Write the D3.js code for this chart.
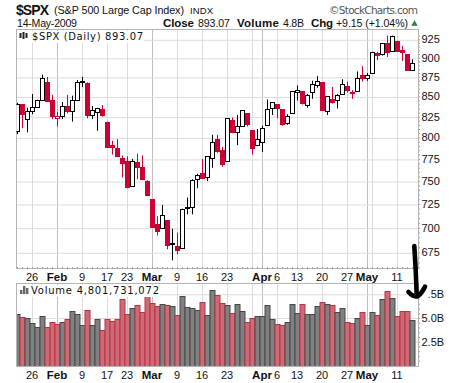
<!DOCTYPE html>
<html>
<head>
<meta charset="utf-8">
<script src="https://cdn.jsdelivr.net/npm/d3@7"></script>
<style>
  html, body { margin: 0; padding: 0; background: #fff; }
  svg { display: block; }
  text { font-family: "Liberation Sans", Arial, sans-serif; fill: #111; }
</style>
</head>
<body>
<script>
// Trading days on the chart
const dates = [
  '01-21','01-22','01-23','01-26','01-27','01-28','01-29','01-30',
  '02-02','02-03','02-04','02-05','02-06','02-09','02-10','02-11','02-12','02-13',
  '02-17','02-18','02-19','02-20','02-23','02-24','02-25','02-26','02-27',
  '03-02','03-03','03-04','03-05','03-06','03-09','03-10','03-11','03-12','03-13',
  '03-16','03-17','03-18','03-19','03-20','03-23','03-24','03-25','03-26','03-27','03-30','03-31',
  '04-01','04-02','04-03','04-06','04-07','04-08','04-09','04-13','04-14','04-15','04-16','04-17',
  '04-20','04-21','04-22','04-23','04-24','04-27','04-28','04-29','04-30',
  '05-01','05-04','05-05','05-06','05-07','05-08','05-11','05-12','05-13','05-14'
]

const opens = [
  807,840,822,832,837,846,869,846,
  823,826,838,832,846,868,867,827,830,834,
  819,791,788,776,773,745,771,766,750,
  730,704,699,708,684,681,679,720,721,752,
  759,754,776,798,785,772,821,807,814,829,809,791,
  794,815,835,840,834,817,829,856,857,839,855,865,
  868,831,847,845,854,863,854,857,877,
  873,879,906,904,920,909,923,911,905,884
]
const highs = [
  842,840,836,853,846,878,875,852,
  831,843,852,851,871,875,868,838,835,839,
  819,796,798,779,778,775,781,779,751,
  730,712,724,708,699,695,720,732,752,758,
  775,778,803,803,789,823,824,827,833,829,809,810,
  814,846,843,840,834,828,857,864,857,853,870,876,
  868,850,862,853,872,869,858,882,889,
  880,908,908,920,930,930,923,916,905,898
]
const lows = [
  804,811,806,828,836,845,845,822,
  813,822,829,819,845,862,823,822,808,825,
  789,780,777,754,742,745,752,751,735,
  700,692,699,678,667,673,679,714,714,742,
  753,750,765,782,766,772,805,791,814,813,780,791,
  783,815,827,823,814,815,829,845,840,836,847,861,
  832,827,841,835,853,855,847,857,869,
  870,879,897,903,901,909,909,896,883,883
]
const closes = [
  840.2,827.5,832,836.6,845.7,874.1,845.1,825.9,
  825.4,838.5,832.2,845.9,868.6,869.9,827.2,833.7,835.2,826.8,
  789.2,788.4,778.9,770,743.3,773.1,764.9,752.8,735.1,
  700.8,696.3,712.9,682.6,683.4,676.5,719.6,721.4,750.7,756.6,
  753.9,778.1,794.4,784,768.5,822.9,806.1,813.9,832.9,815.9,787.5,797.9,
  811.1,834.4,842.5,835.5,815.6,825.2,856.6,858.7,841.5,852.1,865.3,869.6,
  832.4,850.1,843.6,851.9,866.2,857.5,855.2,873.6,872.8,
  877.5,907.2,903.8,919.5,907.4,929.2,909.2,908.4,883.9,893.1
]
const prevClose = 805.2 // close of the session before the first one shown

// Volume in billions of shares
const volumes = [
  5.42,5.10,5.00,4.48,4.06,5.21,4.06,4.58,
  4.37,4.58,4.90,5.73,5.42,4.27,5.84,4.27,4.90,3.74,
  4.90,4.69,4.90,6.99,5.42,6.05,6.36,5.63,7.31,
  6.57,6.26,6.47,6.36,6.26,5.31,7.31,6.15,6.05,5.84,
  6.68,5.31,7.94,7.41,6.57,6.36,5.52,6.47,5.73,4.58,5.00,5.21,
  5.21,6.36,4.90,4.37,4.27,4.58,6.47,5.52,6.47,5.42,5.42,6.26,
  6.68,6.47,6.36,5.63,6.05,4.58,4.48,5.00,5.63,
  4.27,5.63,5.31,6.99,7.83,7.10,5.21,5.73,5.73,4.80
]

// Axis labels
const priceTicks = [675,700,725,750,775,800,825,850,875,900,925]
const priceMinorTicks = d3.range(660, 935, 5)
const volumeTicks = [2.5,5,7.5]
const volumeMinorTicks = d3.range(0.5, 8.5, 0.5)
const monthTicks = {'02-02':'Feb','03-02':'Mar','04-01':'Apr','05-01':'May'}
const dayTicks = {'01-26':'26','02-09':'9','02-17':'17','02-23':'23','03-09':'9','03-16':'16','03-23':'23',
  '03-30':'','04-06':'6','04-13':'13','04-20':'20','04-27':'27','05-04':'','05-11':'11'}

const width = 460
const height = 383
const left = 16.5
const right = 418.5
const priceTop = 29.5
const priceBottom = 268.5
const volTop = 283.5
const volBottom = 366.5

const red = '#cc0033'
const black = '#000'
const gridColor = '#dcdcdc'
const majorColor = '#bfbfbf'
const frameColor = '#b4b4b4'

const svg = d3.select('body').append('svg')
  .attr('width', width)
  .attr('height', height)

// First session is cut in half by the left edge of the panels
svg.append('clipPath').attr('id', 'plot-clip')
  .append('rect')
  .attr('x', left)
  .attr('y', 0)
  .attr('width', right - left)
  .attr('height', height)

// Scales. The point scale keeps one 5px slot per trading day
const xScale = d3.scalePoint().domain(dates).range([16.5, 411.5])
const yScale = d3.scaleLog().domain([675, 925]).range([252.3, 39.3])
const volScale = d3.scaleLinear().domain([0, 7.5]).range([365.5, 294.3])

const isUp = i => closes[i] >= (i === 0 ? prevClose : closes[i - 1])
const allTicks = Object.keys(monthTicks).concat(Object.keys(dayTicks))
const tickLabel = d => monthTicks[d] || dayTicks[d] || ''

// Vertical grid lines and the frame for one panel
function panel(top, bottom) {
  const g = svg.append('g')
  g.selectAll('.vgrid')
    .data(allTicks)
    .join('line')
    .attr('x1', d => Math.round(xScale(d)) + 0.5)
    .attr('x2', d => Math.round(xScale(d)) + 0.5)
    .attr('y1', top)
    .attr('y2', bottom)
    .style('stroke', d => monthTicks[d] ? majorColor : gridColor)
    .style('stroke-width', 1)
  return g
}

function frame(top, bottom) {
  svg.append('rect')
    .attr('x', left)
    .attr('y', top)
    .attr('width', right - left)
    .attr('height', bottom - top)
    .style('fill', 'none')
    .style('stroke', frameColor)
}

// Dotted minor ticks on the right side of a panel
function minorRight(scale, values, top, bottom) {
  const g = svg.append('g')
    .attr('transform', `translate(${right + 0.5},0)`)
    .call(d3.axisRight(scale).tickValues(values.filter(v => scale(v) > top && scale(v) < bottom)).tickSize(1).tickFormat(''))
  g.select('.domain').remove()
  g.selectAll('line').style('stroke', '#999')
}

// Date labels under a panel, with a small dotted tick for every session
function dateAxis(bottom) {
  const minor = svg.append('g')
    .attr('transform', `translate(0.5,${bottom})`)
    .call(d3.axisTop(xScale).tickValues(dates).tickSize(1.5).tickFormat(''))
  minor.select('.domain').remove()
  minor.selectAll('line').style('stroke', '#999')

  const labels = svg.append('g')
    .attr('transform', `translate(0,${bottom})`)
    .call(d3.axisBottom(xScale).tickValues(allTicks).tickSize(0).tickPadding(4.5).tickFormat(tickLabel))
  labels.select('.domain').remove()
  labels.selectAll('text')
    .style('font-family', '"Liberation Sans", Arial, sans-serif')
    .style('font-size', d => monthTicks[d] ? '11.5px' : '11px')
    .style('font-weight', d => monthTicks[d] ? 'bold' : 'normal')
    .style('fill', '#111')
}

// Price panel
panel(priceTop, priceBottom)

const priceAxis = svg.append('g')
  .attr('transform', `translate(${right},0)`)
  .call(d3.axisRight(yScale).tickValues(priceTicks).tickSize(-(right - left)).tickPadding(3).tickFormat(d3.format('d')))
priceAxis.select('.domain').remove()
priceAxis.selectAll('line').style('stroke', gridColor).attr('transform', 'translate(0,0.5)')
priceAxis.selectAll('text')
  .style('font-family', '"Liberation Sans", Arial, sans-serif')
  .style('font-size', '11px')
  .style('fill', '#111')

frame(priceTop, priceBottom)
minorRight(yScale, priceMinorTicks, priceTop, priceBottom)

const wickX = d => Math.round(xScale(d)) + 0.5
const candles = svg.append('g').attr('clip-path', 'url(#plot-clip)')
candles.append('g').selectAll('line')
  .data(dates)
  .join('line')
  .attr('x1', wickX)
  .attr('x2', wickX)
  .attr('y1', (d, i) => yScale(highs[i]))
  .attr('y2', (d, i) => yScale(lows[i]))
  .style('stroke', (d, i) => isUp(i) ? black : red)
  .style('stroke-width', 1)

// Candle bodies: hollow when the close beats the open
candles.append('g').selectAll('rect')
  .data(dates)
  .join('rect')
  .attr('x', d => wickX(d) - 2)
  .attr('width', 4)
  .attr('y', (d, i) => Math.round(yScale(Math.max(opens[i], closes[i]))) + 0.5)
  .attr('height', (d, i) => Math.max(0.5, Math.round(yScale(Math.min(opens[i], closes[i])) - yScale(Math.max(opens[i], closes[i])))))
  .style('fill', (d, i) => closes[i] > opens[i] ? '#fff' : (isUp(i) ? black : red))
  .style('stroke', (d, i) => isUp(i) ? black : red)
  .style('stroke-width', 1)

dateAxis(priceBottom)

// Volume panel
panel(volTop, volBottom)

const volAxis = svg.append('g')
  .attr('transform', `translate(${right},0)`)
  .call(d3.axisRight(volScale).tickValues(volumeTicks).tickSize(-(right - left)).tickPadding(3).tickFormat(d => d.toFixed(1) + 'B'))
volAxis.select('.domain').remove()
volAxis.selectAll('line').style('stroke', gridColor)
volAxis.selectAll('text')
  .style('font-family', '"Liberation Sans", Arial, sans-serif')
  .style('font-size', '11px')
  .style('fill', '#111')

svg.append('g')
  .attr('clip-path', 'url(#plot-clip)')
  .selectAll('rect')
  .data(dates)
  .join('rect')
  .attr('x', d => wickX(d) - 2.5)
  .attr('width', 5)
  .attr('y', (d, i) => Math.round(volScale(volumes[i])) + 0.5)
  .attr('height', (d, i) => volBottom - Math.round(volScale(volumes[i])) - 0.5)
  .style('fill', (d, i) => isUp(i) ? '#808080' : '#cc6b78')
  .style('stroke', (d, i) => isUp(i) ? '#484848' : '#c0303f')
  .style('stroke-width', 1)

frame(volTop, volBottom)
minorRight(volScale, volumeMinorTicks, volTop, volBottom)
dateAxis(volBottom)

// Legends sit on a white patch over the grid
function legend(y, label, x, w) {
  svg.append('rect').attr('x', left + 1).attr('y', y - 9).attr('width', x + w - left).attr('height', 12).style('fill', '#fff')
  svg.append('text')
    .attr('x', x)
    .attr('y', y)
    .attr('textLength', w)
    .attr('lengthAdjust', 'spacing')
    .style('font-family', '"DejaVu Sans", sans-serif')
    .style('font-size', '10px')
    .text(label)
}
legend(40, '$SPX (Daily) 893.07', 32, 111)
legend(294, 'Volume 4,801,731,072', 31, 128)

// Little legend icons
const candleIcon = svg.append('g')
;[[20, 33, 38], [23, 32, 39], [26, 33, 38]].forEach(d => {
  candleIcon.append('line').attr('x1', d[0] + 0.5).attr('x2', d[0] + 0.5).attr('y1', d[1]).attr('y2', d[2]).style('stroke', '#222').style('stroke-width', 2)
})
const barIcon = svg.append('g')
;[[20, 4], [23, 8], [26, 6]].forEach(d => {
  barIcon.append('rect').attr('x', d[0]).attr('y', 294 - d[1]).attr('width', 2.4).attr('height', d[1]).style('fill', '#666')
})

// Header texts, each fitted to the width it has in the picture
const header = [
  {x: 16, y: 15, t: '$SPX', size: 14, weight: 'bold', w: 33},
  {x: 54, y: 14, t: '(S&P 500 Large Cap Index)', size: 10.8, w: 130},
  {x: 190, y: 14, t: 'INDX', size: 9.5, w: 23},
  {x: 17, y: 27, t: '14-May-2009', size: 10.6, w: 60},
  {x: 163, y: 27, t: 'Close', size: 11.5, weight: 'bold', w: 31},
  {x: 198, y: 27, t: '893.07', size: 10.6, w: 32},
  {x: 237, y: 27, t: 'Volume', size: 11.5, weight: 'bold', w: 42},
  {x: 283, y: 27, t: '4.8B', size: 10.6, w: 21},
  {x: 311, y: 27, t: 'Chg', size: 11.5, weight: 'bold', w: 22},
  {x: 336, y: 27, t: '+9.15 (+1.04%)', size: 10.6, w: 72}
]
svg.append('g').selectAll('text')
  .data(header)
  .join('text')
  .attr('x', d => d.x)
  .attr('y', d => d.y)
  .attr('textLength', d => d.w)
  .attr('lengthAdjust', 'spacing')
  .style('font-size', d => d.size + 'px')
  .style('font-weight', d => d.weight || 'normal')
  .text(d => d.t)

svg.append('text')
  .attr('x', 329)
  .attr('y', 14)
  .attr('textLength', 89)
  .attr('lengthAdjust', 'spacing')
  .style('font-family', '"DejaVu Sans", sans-serif')
  .style('font-size', '10.5px')
  .style('fill', '#555')
  .text('©StockCharts.com')

svg.append('path')
  .attr('d', d3.symbol(d3.symbolTriangle, 18)())
  .attr('transform', 'translate(414.5,24)')
  .style('fill', '#2f7a3a')

// Hand drawn arrow on top of the chart. Its white halo wipes the 7 of the 7.5B label
svg.append('rect')
  .attr('x', 419.5)
  .attr('y', 286)
  .attr('width', 9)
  .attr('height', 14)
  .style('fill', '#fff')

const arrowPaths = ['M414.3,246 Q416,270 416.7,296', 'M408.5,292 Q413,297 417.5,296.5 Q422,293 425,286.7']
svg.append('g').selectAll('path')
  .data(arrowPaths)
  .join('path')
  .attr('d', d => d)
  .style('fill', 'none')
  .style('stroke', '#000')
  .style('stroke-width', 4.6)
  .style('stroke-linecap', 'round')
</script>
</body>
</html>
